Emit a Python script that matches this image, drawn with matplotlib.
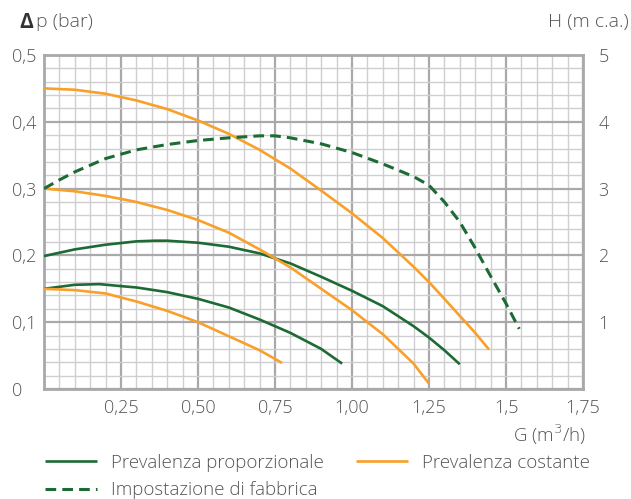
import matplotlib
matplotlib.use("Agg")
import matplotlib.pyplot as plt
from matplotlib.ticker import MultipleLocator, FixedLocator

plt.rcParams['font.family'] = ['Open Sans', 'DejaVu Sans']
plt.rcParams['font.weight'] = 'light'

# ---- data (flow G in m3/h, head dp in bar) ----
cost_hi_x = [0, 0.1, 0.2, 0.3, 0.4, 0.5, 0.6, 0.7, 0.8, 0.9, 1.0, 1.1, 1.2, 1.25, 1.3, 1.4, 1.445]
cost_hi_y = [0.450, 0.448, 0.442, 0.432, 0.419, 0.402, 0.382, 0.358, 0.330, 0.297, 0.263, 0.226, 0.183, 0.160, 0.135, 0.084, 0.059]

cost_mid_x = [0, 0.1, 0.2, 0.3, 0.4, 0.5, 0.6, 0.7, 0.8, 0.9, 1.0, 1.1, 1.2, 1.25]
cost_mid_y = [0.300, 0.296, 0.289, 0.280, 0.268, 0.253, 0.234, 0.209, 0.182, 0.150, 0.118, 0.082, 0.038, 0.008]

cost_lo_x = [0, 0.1, 0.2, 0.3, 0.4, 0.5, 0.6, 0.7, 0.773]
cost_lo_y = [0.150, 0.148, 0.143, 0.131, 0.117, 0.100, 0.079, 0.058, 0.039]

prop_hi_x = [0, 0.1, 0.2, 0.3, 0.36, 0.4, 0.5, 0.6, 0.7, 0.8, 0.9, 1.0, 1.1, 1.2, 1.25, 1.3, 1.35]
prop_hi_y = [0.199, 0.209, 0.216, 0.221, 0.222, 0.222, 0.219, 0.213, 0.203, 0.188, 0.168, 0.147, 0.124, 0.094, 0.077, 0.058, 0.037]

prop_lo_x = [0, 0.1, 0.18, 0.25, 0.3, 0.4, 0.5, 0.6, 0.7, 0.8, 0.9, 0.968]
prop_lo_y = [0.150, 0.156, 0.157, 0.154, 0.152, 0.145, 0.135, 0.122, 0.104, 0.084, 0.060, 0.038]

fab_x = [0, 0.05, 0.1, 0.2, 0.3, 0.4, 0.5, 0.6, 0.7, 0.75, 0.8, 0.9, 1.0, 1.1, 1.2, 1.25, 1.3, 1.35, 1.4, 1.45, 1.5, 1.543]
fab_y = [0.300, 0.313, 0.325, 0.345, 0.358, 0.366, 0.372, 0.376, 0.379, 0.379, 0.376, 0.367, 0.354, 0.337, 0.318, 0.305, 0.280, 0.250, 0.211, 0.169, 0.128, 0.090]

x_ticks = [0.25, 0.50, 0.75, 1.00, 1.25, 1.5, 1.75]
x_labels = ["0,25", "0,50", "0,75", "1,00", "1,25", "1,5", "1,75"]
y_ticks = [0, 0.1, 0.2, 0.3, 0.4, 0.5]
y_labels = ["0", "0,1", "0,2", "0,3", "0,4", "0,5"]
h_ticks = [1, 2, 3, 4, 5]
h_labels = ["1", "2", "3", "4", "5"]

labels = ["Prevalenza proporzionale", "Impostazione di fabbrica", "Prevalenza costante"]

GREEN = "#1d6a34"
ORANGE = "#f8a02a"
TXT = "#555555"
GRID_MAJ = "#a9a9ab"
GRID_MIN = "#cfcfd1"
FS = 13
FS_T = 13.5

fig = plt.figure(figsize=(6.31, 4.99), dpi=100)
ax = fig.add_axes([44/631, 1-389/499, (583-44)/631, (389-55)/499])

ax.set_xlim(0, 1.75)
ax.set_ylim(0, 0.5)
ax.xaxis.set_major_locator(FixedLocator([0, 0.25, 0.5, 0.75, 1.0, 1.25, 1.5, 1.75]))
ax.xaxis.set_minor_locator(MultipleLocator(0.05))
ax.yaxis.set_major_locator(FixedLocator(y_ticks))
ax.yaxis.set_minor_locator(MultipleLocator(0.02))
ax.grid(which='minor', color=GRID_MIN, lw=1.0, zorder=0)
ax.grid(which='major', color=GRID_MAJ, lw=1.6, zorder=0)
ax.set_axisbelow(True)
for s in ax.spines.values():
    s.set_color(GRID_MAJ)
    s.set_linewidth(2.0)

ax.set_xticks(x_ticks)
ax.set_xticklabels(x_labels)
ax.set_yticks(y_ticks)
ax.set_yticklabels(y_labels)
ax.tick_params(which='both', length=0, colors=TXT, labelsize=FS)
ax.tick_params(axis='x', pad=7)
ax.tick_params(axis='y', pad=23)
for lab in ax.get_yticklabels():
    lab.set_ha('left')

lw = 1.9
l_prop, = ax.plot(prop_hi_x, prop_hi_y, color=GREEN, lw=lw, solid_capstyle='butt', zorder=3)
ax.plot(prop_lo_x, prop_lo_y, color=GREEN, lw=lw, solid_capstyle='butt', zorder=3)
l_cost, = ax.plot(cost_hi_x, cost_hi_y, color=ORANGE, lw=lw, solid_capstyle='butt', zorder=3)
ax.plot(cost_mid_x, cost_mid_y, color=ORANGE, lw=lw, solid_capstyle='butt', zorder=3)
ax.plot(cost_lo_x, cost_lo_y, color=ORANGE, lw=lw, solid_capstyle='butt', zorder=3)
l_fab, = ax.plot(fab_x, fab_y, color=GREEN, lw=2.2, dashes=(3.5, 2.0), zorder=3)

ax2 = ax.twinx()
ax2.set_ylim(0, 5)
ax2.set_yticks(h_ticks)
ax2.set_yticklabels(h_labels)
ax2.tick_params(length=0, colors=TXT, labelsize=FS, pad=11)
for s in ax2.spines.values():
    s.set_visible(False)

fig.text(19/631, 1-22/499, "Δ", color="#333333", fontsize=15, fontweight='bold', va='center', ha='left')
fig.text(36/631, 1-22/499, "p (bar)", color=TXT, fontsize=FS_T + 0.5, va='center', ha='left')
fig.text(629/631, 1-22/499, "H (m c.a.)", color=TXT, fontsize=FS_T + 0.5, va='center', ha='right')
fig.text(586/631, 1-435/499, "G (m$^3$/h)", color=TXT, fontsize=FS_T, va='center', ha='right')

leg = fig.legend([l_prop, l_fab, l_cost], labels, loc='upper left',
                 bbox_to_anchor=(45/631, 1-454/499), ncol=2, frameon=False,
                 fontsize=FS_T, handlelength=2.75, handletextpad=0.75,
                 columnspacing=1.75, labelspacing=0.5, borderpad=0, borderaxespad=0)
for t in leg.get_texts():
    t.set_color(TXT)

fig.savefig("out.png", dpi=100)
